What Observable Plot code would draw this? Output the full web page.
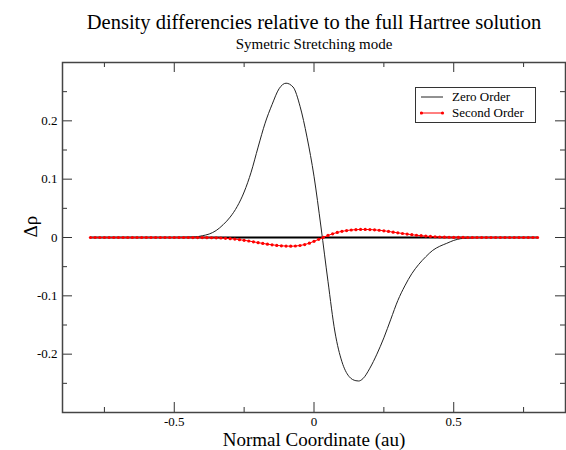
<!DOCTYPE html>
<html><head><meta charset="utf-8">
<script src="https://cdn.jsdelivr.net/npm/d3@7"></script>
<script src="https://cdn.jsdelivr.net/npm/@observablehq/plot@0.6"></script>
<style>
body{margin:0;background:#fff;}
#wrap{position:relative;width:566px;height:450px;font-family:"Liberation Serif","Times New Roman",serif;color:#000;}
#chart{position:absolute;left:0;top:0;}
.title{position:absolute;left:62px;width:504px;text-align:center;line-height:1;white-space:nowrap;}
#legend{position:absolute;left:415px;top:87px;width:119px;height:34px;border:1px solid #333;background:#fff;font-size:13px;}
#legend .row{position:absolute;left:0;height:16px;line-height:16px;white-space:nowrap;}
#legend svg{position:absolute;left:4px;top:0;}
#legend span{position:absolute;left:36px;top:0;}
</style></head><body>
<div id="wrap">
  <div id="chart"></div>
  <div class="title" style="top:12px;font-size:20.5px">Density differencies relative to the full Hartree solution</div>
  <div class="title" style="top:37px;font-size:15px">Symetric Stretching mode</div>
  <div id="legend">
    <div class="row" style="top:1px"><svg width="26" height="16"><line x1="1" x2="23" y1="8" y2="8" stroke="#222" stroke-width="1"/></svg><span>Zero Order</span></div>
    <div class="row" style="top:17px"><svg width="26" height="16"><line x1="1" x2="23" y1="8" y2="8" stroke="red" stroke-width="1"/><circle cx="1.5" cy="8" r="1.6" fill="red"/><circle cx="22.5" cy="8" r="1.6" fill="red"/></svg><span>Second Order</span></div>
  </div>
</div>
<script>
// Zero order series
const zeroX = [-0.8, -0.5, -0.45, -0.425, -0.4, -0.375, -0.35, -0.325, -0.3, -0.275, -0.25, -0.225, -0.2, -0.175, -0.15, -0.125, -0.1, -0.075, -0.05, -0.025, 0, 0.025, 0.05, 0.075, 0.1, 0.125, 0.15, 0.16, 0.175, 0.2, 0.225, 0.25, 0.275, 0.3, 0.325, 0.35, 0.375, 0.4, 0.425, 0.45, 0.475, 0.5, 0.525, 0.55, 0.6, 0.8];
const zeroY = [0, 0, 0.0005, 0.001, 0.003, 0.006, 0.012, 0.022, 0.035, 0.053, 0.078, 0.112, 0.155, 0.196, 0.228, 0.255, 0.2645, 0.258, 0.225, 0.172, 0.105, 0.018, -0.075, -0.162, -0.213, -0.238, -0.2455, -0.246, -0.242, -0.224, -0.2, -0.172, -0.14, -0.108, -0.083, -0.062, -0.046, -0.033, -0.022, -0.015, -0.01, -0.005, -0.002, -0.001, 0, 0];

// Second order series, one value per symbol from x = -0.8 to 0.8
const secondStart = -0.8, secondStep = 1 / 60;
const secondY = [
  0, 0, 0, 0, 0, 0, 0, 0, 0, 0,
  0, 0, 0, 0, 0, 0, 0, 0, 0, 0,
  0, 0, -0.0001, -0.0001, -0.0002, -0.0003, -0.0004, -0.0006, -0.0009, -0.0014,
  -0.002, -0.0027, -0.0037, -0.0048, -0.006, -0.0074, -0.0088, -0.0101, -0.0114, -0.0125,
  -0.0135, -0.0142, -0.0147, -0.0149, -0.0146, -0.0137, -0.0121, -0.0097, -0.0066, -0.0031,
  0.0003, 0.0035, 0.0063, 0.0087, 0.0106, 0.0119, 0.0129, 0.0135, 0.0138, 0.0138,
  0.0136, 0.0131, 0.0124, 0.0115, 0.0104, 0.0092, 0.008, 0.0069, 0.0058, 0.0048,
  0.0039, 0.0031, 0.0024, 0.0018, 0.0013, 0.0009, 0.0006, 0.0004, 0.0002, 0.0001,
  0.0001, 0, 0, 0, 0, 0, 0, 0, 0, 0,
  0, 0, 0, 0, 0, 0, 0
];
const secondX = secondY.map((_, i) => secondStart + i * secondStep);

// Zero reference line extent
const baseline = [0];
const baselineX = [-0.8, 0.8];

// Axes
const xDomain = [-0.9, 0.9];
const yDomain = [-0.3, 0.3];
const xMajor = [-0.5, 0, 0.5];
const xMinor = [-0.75, -0.25, 0.25, 0.75];
const yMajor = [-0.2, -0.1, 0, 0.1, 0.2];
const yMinor = [-0.25, -0.15, -0.05, 0.05, 0.15, 0.25];
const xLabel = "Normal Coordinate (au)";
const yLabel = "Δρ";

const zeroData = zeroX.map((x, i) => ({x, y: zeroY[i]}));
const secondData = secondX.map((x, i) => ({x, y: secondY[i]}));

const W = 566, H = 450, mL = 62, mR = 1, mT = 62, mB = 38;
const fw = W - mL - mR, fh = H - mT - mB;
const majLen = 10, minLen = 5;
const fmt = d => String(d);

const chart = Plot.plot({
  width: W, height: H,
  marginLeft: mL, marginRight: mR, marginTop: mT, marginBottom: mB,
  style: {fontFamily: '"Liberation Serif","Times New Roman",serif', fontSize: "13px", color: "#000", background: "#fff"},
  x: {domain: xDomain},
  y: {domain: yDomain},
  marks: [
    Plot.ruleY(baseline, {x1: baselineX[0], x2: baselineX[1], stroke: "#000", strokeWidth: 2}),
    Plot.line(zeroData, {x: "x", y: "y", stroke: "#222", strokeWidth: 1, curve: "monotone-x"}),
    Plot.line(secondData, {x: "x", y: "y", stroke: "red", strokeWidth: 1}),
    Plot.dot(secondData, {x: "x", y: "y", r: 1.6, fill: "red", stroke: null}),
    // inward ticks on all four sides
    Plot.tickX(xMajor, {x: d => d, insetTop: fh - majLen, stroke: "#333"}),
    Plot.tickX(xMajor, {x: d => d, insetBottom: fh - majLen, stroke: "#333"}),
    Plot.tickX(xMinor, {x: d => d, insetTop: fh - minLen, stroke: "#333"}),
    Plot.tickX(xMinor, {x: d => d, insetBottom: fh - minLen, stroke: "#333"}),
    Plot.tickY(yMajor, {y: d => d, insetRight: fw - majLen, stroke: "#333"}),
    Plot.tickY(yMajor, {y: d => d, insetLeft: fw - majLen, stroke: "#333"}),
    Plot.tickY(yMinor, {y: d => d, insetRight: fw - minLen, stroke: "#333"}),
    Plot.tickY(yMinor, {y: d => d, insetLeft: fw - minLen, stroke: "#333"}),
    Plot.axisX(xMajor, {tickSize: 0, tickPadding: 4, tickFormat: fmt, label: null, fontSize: 13}),
    Plot.axisY(yMajor, {tickSize: 0, tickPadding: 5, tickFormat: fmt, label: null, fontSize: 13}),
    Plot.text([xLabel], {frameAnchor: "bottom", dy: 27, fontSize: 19, lineAnchor: "middle"}),
    Plot.text([yLabel], {frameAnchor: "left", dx: -32, rotate: -90, fontSize: 19}),
    Plot.frame({stroke: "#444", strokeWidth: 1.5})
  ]
});
document.getElementById("chart").appendChild(chart);
</script>
</body></html>
